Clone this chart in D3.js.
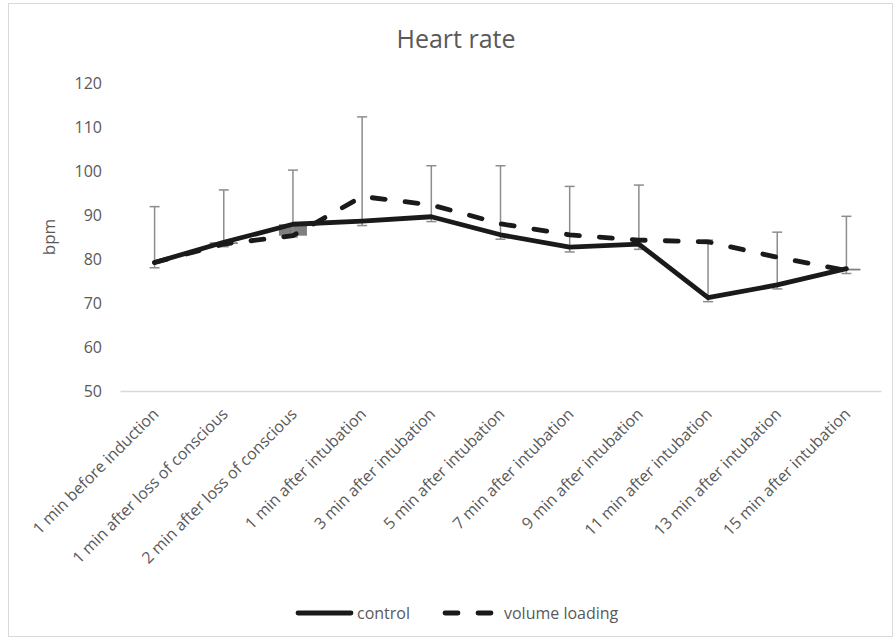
<!DOCTYPE html>
<html>
<head>
<meta charset="utf-8">
<script src="https://cdn.jsdelivr.net/npm/d3@7"></script>
<style>
  html, body { margin: 0; padding: 0; background: #fff; }
  svg { display: block; font-family: "Open Sans", Lato, sans-serif; }
</style>
</head>
<body>
<svg id="chart" width="896" height="643"></svg>
<script>
// ---- data ----
const categories = [
  "1 min before induction",
  "1 min after loss of conscious",
  "2 min after loss of conscious",
  "1 min after intubation",
  "3 min after intubation",
  "5 min after intubation",
  "7 min after intubation",
  "9 min after intubation",
  "11 min after intubation",
  "13 min after intubation",
  "15 min after intubation"
];
const control       = [79.2, 83.8, 87.9, 88.6, 89.6, 85.5, 82.7, 83.4, 71.2, 74.1, 77.8];
const volumeLoading = [79.2, 83.4, 85.3, 94.2, 92.3, 88.0, 85.5, 84.3, 83.9, 80.4, 77.4];
const errHigh       = [91.9, 95.7, 100.2, 112.3, 101.2, 101.2, 96.5, 96.8, 84.3, 86.1, 89.7];
const errLow        = [78.0, 82.8, 85.0, 87.6, 88.5, 84.5, 81.6, 82.2, 70.3, 73.2, 76.7];
const yTicks        = [50, 60, 70, 80, 90, 100, 110, 120];
const seriesNames   = ["control", "volume loading"];

// ---- layout ----
const svg = d3.select("#chart");
const plot = { left: 120, right: 881, top: 83, bottom: 391 };
const textColor = "#595959";
const fontFam = "'Open Sans', Lato, sans-serif";

svg.append("rect")
  .attr("x", 8.5).attr("y", 3.5).attr("width", 884).attr("height", 633)
  .attr("fill", "#fff").attr("stroke", "#d9d9d9").attr("stroke-width", 1);

const x = d3.scaleBand().domain(categories).range([plot.left, plot.right]).padding(0);
const y = d3.scaleLinear().domain([50, 120]).range([plot.bottom, plot.top]);
const cx = c => x(c) + x.bandwidth() / 2;

// title
svg.append("text")
  .attr("x", 456).attr("y", 48)
  .attr("text-anchor", "middle")
  .attr("fill", textColor)
  .style("font-size", "25px")
  .text("Heart rate");

// y axis labels
const yAxis = d3.axisLeft(y).tickValues(yTicks).tickSize(0).tickPadding(0);
const yg = svg.append("g").attr("transform", `translate(102,0)`).call(yAxis);
yg.select(".domain").remove();
yg.selectAll("text").attr("fill", textColor).style("font-size", "16px").style("font-family", fontFam);

// y axis title
svg.append("text")
  .attr("transform", "translate(55,237) rotate(-90)")
  .attr("text-anchor", "middle")
  .attr("fill", textColor)
  .style("font-size", "17px")
  .text("bpm");

// x axis
const xAxis = d3.axisBottom(x).tickSize(0).tickPadding(0);
const xg = svg.append("g").attr("transform", `translate(0,${plot.bottom})`).call(xAxis);
xg.select(".domain").attr("stroke", "#d9d9d9").attr("stroke-width", 1.3);
xg.selectAll("text")
  .attr("fill", textColor)
  .style("font-size", "16px")
  .style("font-family", fontFam)
  .attr("text-anchor", "end")
  .attr("y", 0)
  .attr("dy", null)
  .attr("transform", "translate(5,24) rotate(-45)");

// up/down bars (down bars gray, up bars unfilled)
const barW = 28;
svg.append("g").selectAll("rect")
  .data(categories.map((c, i) => ({ c, a: control[i], b: volumeLoading[i] })))
  .join("rect")
  .attr("x", d => cx(d.c) - barW / 2)
  .attr("width", barW)
  .attr("y", d => y(Math.max(d.a, d.b)))
  .attr("height", d => Math.abs(y(d.a) - y(d.b)))
  .attr("fill", d => d.b < d.a ? "#7f7f7f" : "none");

// error bars
const eg = svg.append("g").attr("stroke", "#8c8c8c").attr("stroke-width", 1.5);
categories.forEach((c, i) => {
  const px = cx(c);
  eg.append("line").attr("x1", px).attr("x2", px).attr("y1", y(errLow[i])).attr("y2", y(errHigh[i]));
  eg.append("line").attr("x1", px - 5).attr("x2", px + 5).attr("y1", y(errLow[i])).attr("y2", y(errLow[i]));
  eg.append("line").attr("x1", px - 5).attr("x2", px + 5).attr("y1", y(errHigh[i])).attr("y2", y(errHigh[i]));
});

// lines
const line = d3.line().x((d, i) => cx(categories[i])).y(d => y(d));
svg.append("path").datum(volumeLoading)
  .attr("d", line).attr("fill", "none")
  .attr("stroke", "#1a1a1a").attr("stroke-width", 4.8)
  .attr("stroke-linecap", "round").attr("stroke-linejoin", "round")
  .attr("stroke-dasharray", "13,20");
svg.append("path").datum(control)
  .attr("d", line).attr("fill", "none")
  .attr("stroke", "#1a1a1a").attr("stroke-width", 4.8)
  .attr("stroke-linejoin", "round").attr("stroke-linecap", "round");

// legend
const lg = svg.append("g");
lg.append("line").attr("x1", 298).attr("x2", 351).attr("y1", 613).attr("y2", 613)
  .attr("stroke", "#1a1a1a").attr("stroke-width", 4.8).attr("stroke-linecap", "round");
lg.append("text").attr("x", 357).attr("y", 619).attr("fill", textColor).style("font-size", "16px").text(seriesNames[0]);
lg.append("line").attr("x1", 445).attr("x2", 491).attr("y1", 613).attr("y2", 613)
  .attr("stroke", "#1a1a1a").attr("stroke-width", 4.8).attr("stroke-linecap", "round")
  .attr("stroke-dasharray", "13,20");
lg.append("text").attr("x", 504).attr("y", 619).attr("fill", textColor).style("font-size", "16px").text(seriesNames[1]);
</script>
</body>
</html>
